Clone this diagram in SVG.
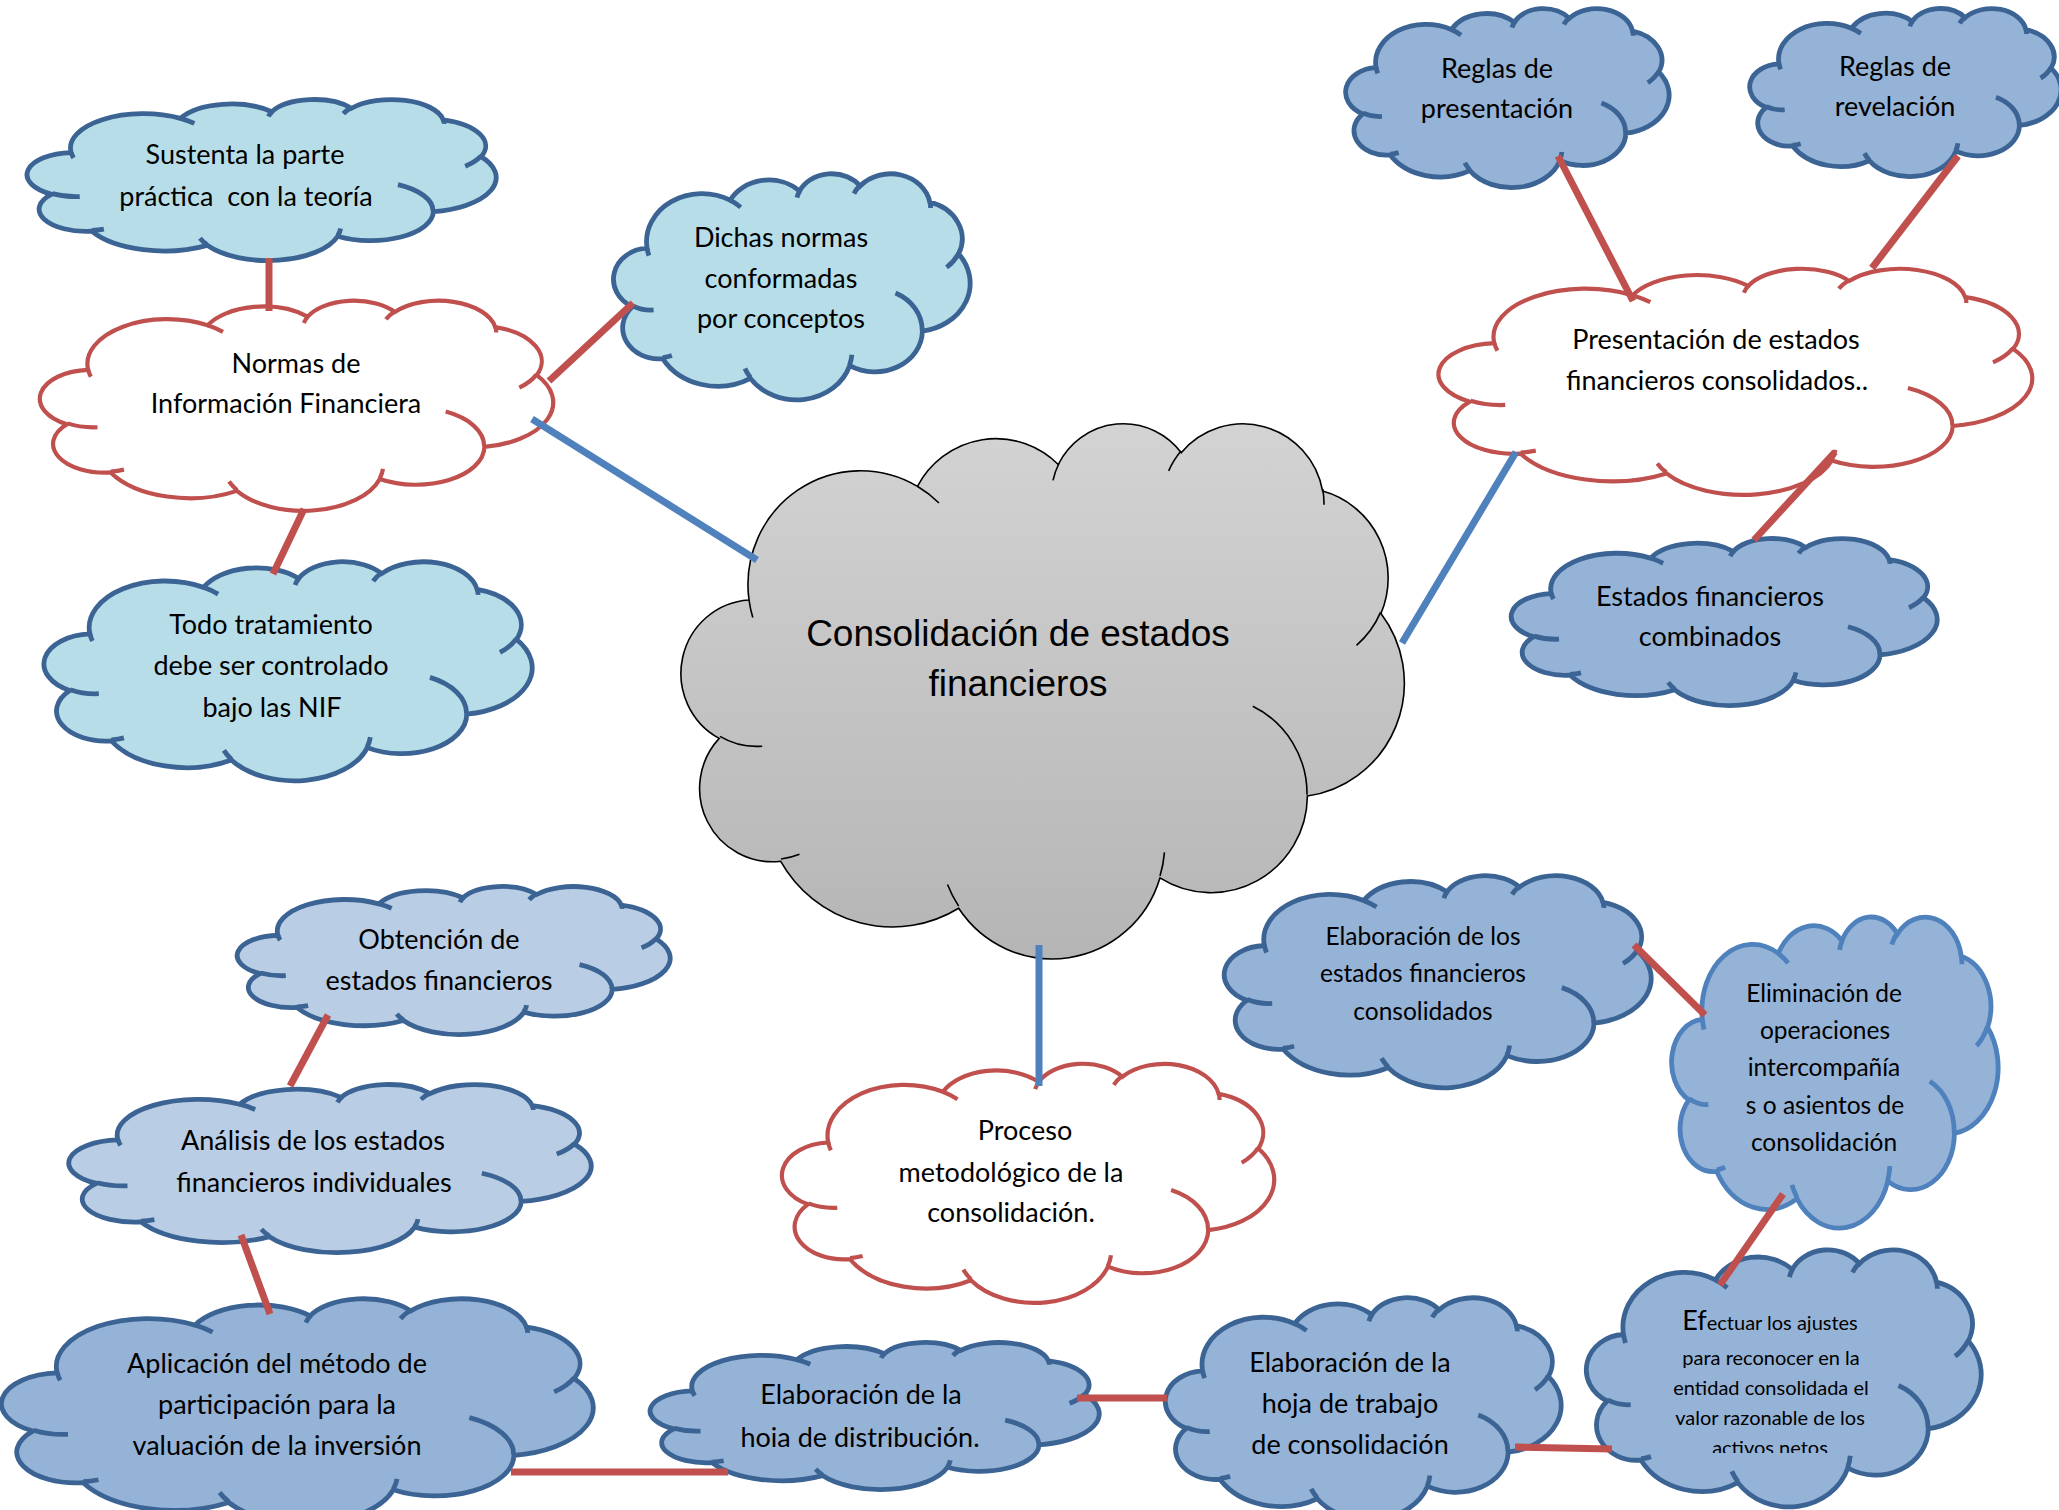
<svg xmlns="http://www.w3.org/2000/svg" xmlns:xlink="http://www.w3.org/1999/xlink" width="2059" height="1510" viewBox="0 0 2059 1510">
<style>
.t{font-family:Lato,"Liberation Sans",sans-serif;font-size:27px;fill:#000;stroke:none;text-anchor:middle}
.ts{font-size:24.5px}
.tc{font-family:"Liberation Sans",Arial,sans-serif;font-size:37px}
.lb{fill:#B7DEE8;stroke:#3B6494;stroke-width:4.8}
.mb{fill:#95B3D7;stroke:#3B6494;stroke-width:4.8}
.pb{fill:#B9CDE5;stroke:#3B6494;stroke-width:4.8}
.eb{fill:#95B3D7;stroke:#4F81BD;stroke-width:4.8}
.wr{fill:#FFFFFF;stroke:#C0504D;stroke-width:4.2}
.gc{fill:url(#gg);stroke:#000;stroke-width:1.6}
.rc{stroke:#C0504D;stroke-width:7;fill:none}
.bc{stroke:#4F81BD;stroke-width:7;fill:none}
</style>
<defs>
<linearGradient id="gg" x1="0" y1="0" x2="0" y2="1">
<stop offset="0" stop-color="#D3D3D3"/>
<stop offset="1" stop-color="#B5B5B5"/>
</linearGradient>
<path id="co" vector-effect="non-scaling-stroke" d="M39,143.7 A67.53,91.9 0 0 1 140.05,52.02 A53.33,72.67 0 0 1 224.56,34.32 A43.65,59.45 0 0 1 298.33,24.81 A48.57,65.95 0 0 1 383.18,55.76 A53.33,72.73 0 0 1 418.18,154.6 A67.75,92.2 0 0 1 374.04,302.03 A57.85,78.67 0 0 1 285.56,368.13 A67.52,92.15 0 0 1 164.8,392.64 A77.2,105.43 0 0 1 58.04,354.7 A43.6,59.18 0 0 1 21.13,255.48 A43.45,59.45 0 0 1 39,143.7 Z"/>
<path id="ci" fill="none" vector-effect="non-scaling-stroke" d="M46.93,261.77 A43.45,59.45 0 0 1 21.6,253.8 M69.28,348.99 A43.6,59.18 0 0 1 58.2,352.81 M164.78,390.9 A67.52,92.15 0 0 1 158.1,373.5 M288.27,347.51 A67.52,92.15 0 0 1 285.6,366.6 M341.29,229.54 A57.85,78.67 0 0 1 373.8,300.9 M417.98,153.54 A53.33,72.73 0 0 1 403.5,180.3 M383.24,54.26 A48.57,65.95 0 0 1 384,66.9 M290.78,39.52 A48.57,65.95 0 0 1 298.2,23.41 M221.41,47.2 A43.65,59.45 0 0 1 225,33.3 M140,51.92 A67.53,91.9 0 0 1 153,65.4 M41.27,157.89 A67.53,91.9 0 0 1 39,143.7"/>
<clipPath id="clipEf"><rect x="1580" y="1240" width="410" height="213"/></clipPath>
</defs>

<g id="n-central" class="gc">
<g transform="translate(684,422) scale(1.66667,1.23843)"><use href="#co"/><use href="#ci"/></g>
<text class="t tc" x="1018" y="646">Consolidación de estados</text>
<text class="t tc" x="1018" y="696">financieros</text>
</g>

<g id="n-sustenta" class="lb">
<g transform="translate(29,99) scale(1.08102,0.37269)"><use href="#co"/><use href="#ci"/></g>
<text class="t" x="245" y="164">Sustenta la parte</text>
<text class="t" x="246" y="206" xml:space="preserve">práctica  con la teoría</text>
</g>

<g id="n-normas" class="wr">
<g transform="translate(42,300) scale(1.18287,0.48611)"><use href="#co"/><use href="#ci"/></g>
<text class="t" x="296" y="373">Normas de</text>
<text class="t" x="286" y="413">Información Financiera</text>
</g>

<g id="n-dichas" class="lb">
<g transform="translate(615,173) scale(0.82176,0.52315)"><use href="#co"/><use href="#ci"/></g>
<text class="t" x="781" y="247">Dichas normas</text>
<text class="t" x="781" y="288">conformadas</text>
<text class="t" x="781" y="328">por conceptos</text>
</g>

<g id="n-todo" class="lb">
<g transform="translate(46,561) scale(1.125,0.50694)"><use href="#co"/><use href="#ci"/></g>
<text class="t" x="271" y="634">Todo tratamiento</text>
<text class="t" x="271" y="675">debe ser controlado</text>
<text class="t" x="272" y="717">bajo las NIF</text>
</g>

<g id="n-reglas-presentacion" class="mb">
<g transform="translate(1347,8) scale(0.74537,0.41435)"><use href="#co"/><use href="#ci"/></g>
<text class="t" x="1497" y="78">Reglas de</text>
<text class="t" x="1497" y="118">presentación</text>
</g>

<g id="n-reglas-revelacion" class="mb">
<g transform="translate(1751,8) scale(0.71759,0.38889)"><use href="#co"/><use href="#ci"/></g>
<text class="t" x="1895" y="76">Reglas de</text>
<text class="t" x="1895" y="116">revelación</text>
</g>

<g id="n-presentacion" class="wr">
<g transform="translate(1441,268) scale(1.36806,0.52315)"><use href="#co"/><use href="#ci"/></g>
<text class="t" x="1716" y="349">Presentación de estados</text>
<text class="t" x="1717" y="390">financieros consolidados..</text>
</g>

<g id="n-combinados" class="mb">
<g transform="translate(1513,538) scale(0.98148,0.38657)"><use href="#co"/><use href="#ci"/></g>
<text class="t" x="1710" y="606">Estados financieros</text>
<text class="t" x="1710" y="646">combinados</text>
</g>

<g id="n-elab-consolidados" class="mb">
<g transform="translate(1226,875) scale(0.9838,0.49074)"><use href="#co"/><use href="#ci"/></g>
<text class="t ts" x="1423" y="945">Elaboración de los</text>
<text class="t ts" x="1423" y="982">estados financieros</text>
<text class="t ts" x="1423" y="1020">consolidados</text>
</g>

<g id="n-eliminacion" class="eb">
<g transform="translate(1673,916) scale(0.75231,0.71991)"><use href="#co"/><use href="#ci"/></g>
<text class="t ts" x="1824" y="1002">Eliminación de</text>
<text class="t ts" x="1825" y="1039">operaciones</text>
<text class="t ts" x="1824" y="1076">intercompañía</text>
<text class="t ts" x="1825" y="1114">s o asientos de</text>
<text class="t ts" x="1824" y="1151">consolidación</text>
</g>

<g id="n-efectuar" class="mb">
<g transform="translate(1588,1249) scale(0.90972,0.59491)"><use href="#co"/><use href="#ci"/></g>
<g clip-path="url(#clipEf)">
<text class="t" x="1770" y="1330" style="font-size:20px"><tspan style="font-size:27px">Ef</tspan>ectuar los ajustes</text>
<text class="t" x="1771" y="1365" style="font-size:20px">para reconocer en la</text>
<text class="t" x="1771" y="1395" style="font-size:20px">entidad consolidada el</text>
<text class="t" x="1770" y="1425" style="font-size:20px">valor razonable de los</text>
<text class="t" x="1770" y="1455" style="font-size:20px">activos netos</text>
</g>
</g>

<g id="n-hoja-trabajo" class="mb">
<g transform="translate(1167,1297) scale(0.91204,0.51389)"><use href="#co"/><use href="#ci"/></g>
<text class="t" x="1350" y="1372">Elaboración de la</text>
<text class="t" x="1350" y="1413">hoja de trabajo</text>
<text class="t" x="1350" y="1454">de consolidación</text>
</g>

<g id="n-hoja-distribucion" class="mb">
<g transform="translate(652,1342) scale(1.03472,0.34028)"><use href="#co"/><use href="#ci"/></g>
<text class="t" x="861" y="1404">Elaboración de la</text>
<text class="t" x="860" y="1447">hoia de distribución.</text>
</g>

<g id="n-aplicacion" class="mb">
<g transform="translate(4,1298) scale(1.36343,0.52083)"><use href="#co"/><use href="#ci"/></g>
<text class="t" x="277" y="1373">Aplicación del método de</text>
<text class="t" x="277" y="1414">participación para la</text>
<text class="t" x="277" y="1455">valuación de la inversión</text>
</g>

<g id="n-analisis" class="pb">
<g transform="translate(71,1084) scale(1.2037,0.38889)"><use href="#co"/><use href="#ci"/></g>
<text class="t" x="313" y="1150">Análisis de los estados</text>
<text class="t" x="314" y="1192">financieros individuales</text>
</g>

<g id="n-obtencion" class="pb">
<g transform="translate(239,886) scale(0.99769,0.34259)"><use href="#co"/><use href="#ci"/></g>
<text class="t" x="439" y="949">Obtención de</text>
<text class="t" x="439" y="990">estados financieros</text>
</g>

<g id="n-proceso" class="wr">
<g transform="translate(784,1063) scale(1.13426,0.55324)"><use href="#co"/><use href="#ci"/></g>
<text class="t" x="1025" y="1140">Proceso</text>
<text class="t" x="1011" y="1182">metodológico de la</text>
<text class="t" x="1011" y="1222">consolidación.</text>
</g>

<g id="connectors">
<line class="rc" x1="269" y1="258" x2="269" y2="311"/>
<line class="rc" x1="549" y1="381" x2="633" y2="303"/>
<line class="bc" x1="532" y1="419" x2="757" y2="560"/>
<line class="rc" x1="304" y1="509" x2="273" y2="574"/>
<line class="rc" x1="1558" y1="156" x2="1633" y2="301"/>
<line class="rc" x1="1958" y1="156" x2="1872" y2="268"/>
<line class="rc" x1="1835" y1="452" x2="1754" y2="540"/>
<line class="bc" x1="1516" y1="452" x2="1402" y2="643"/>
<line class="bc" x1="1039" y1="945" x2="1039" y2="1086"/>
<line class="rc" x1="1634" y1="945" x2="1705" y2="1015"/>
<line class="rc" x1="1783" y1="1194" x2="1720" y2="1285"/>
<line class="rc" x1="1515" y1="1447" x2="1612" y2="1449"/>
<line class="rc" x1="1077" y1="1398" x2="1167" y2="1398"/>
<line class="rc" x1="511" y1="1472" x2="728" y2="1472"/>
<line class="rc" x1="241" y1="1235" x2="270" y2="1314"/>
<line class="rc" x1="328" y1="1015" x2="290" y2="1086"/>
</g>
</svg>
